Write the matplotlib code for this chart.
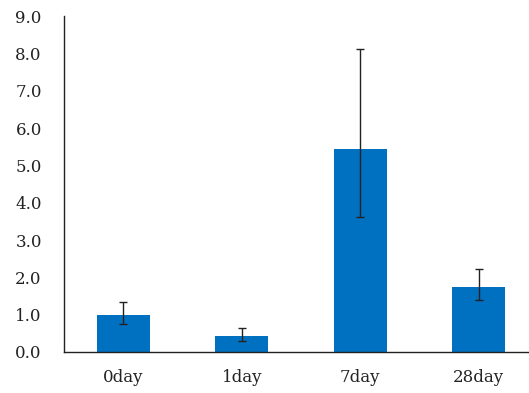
import matplotlib
matplotlib.use("Agg")
import matplotlib.pyplot as plt

categories = ["0day", "1day", "7day", "28day"]
means = [0.98, 0.42, 5.43, 1.75]
err_low = [0.24, 0.13, 1.82, 0.37]
err_high = [0.35, 0.22, 2.68, 0.47]
y_ticks = [0.0, 1.0, 2.0, 3.0, 4.0, 5.0, 6.0, 7.0, 8.0, 9.0]

plt.rcParams["font.family"] = ["DejaVu Serif"]

fig = plt.figure(figsize=(5.29, 3.93), dpi=100)
ax = fig.add_axes([64 / 529, 1 - 352 / 393, 474 / 529, 336 / 393])

x = range(len(categories))
ax.bar(x, means, width=0.45, color="#0070C0", zorder=2)
ax.errorbar(x, means, yerr=[err_low, err_high], fmt="none",
            ecolor="#222222", elinewidth=1, capsize=3, capthick=1, zorder=3)

ax.set_xlim(-0.5, 3.5)
ax.set_ylim(0, 9)
ax.set_yticks(y_ticks)
ax.set_yticklabels([f"{v:.1f}" for v in y_ticks])
ax.set_xticks(list(x))
ax.set_xticklabels(categories)
ax.tick_params(axis="both", length=0, labelsize=12, colors="#222222")
ax.tick_params(axis="y", pad=16)
ax.tick_params(axis="x", pad=12)

for side in ["top", "right"]:
    ax.spines[side].set_visible(False)
for side in ["left", "bottom"]:
    ax.spines[side].set_color("#222222")
    ax.spines[side].set_linewidth(1)

fig.savefig("out.png", dpi=100)
